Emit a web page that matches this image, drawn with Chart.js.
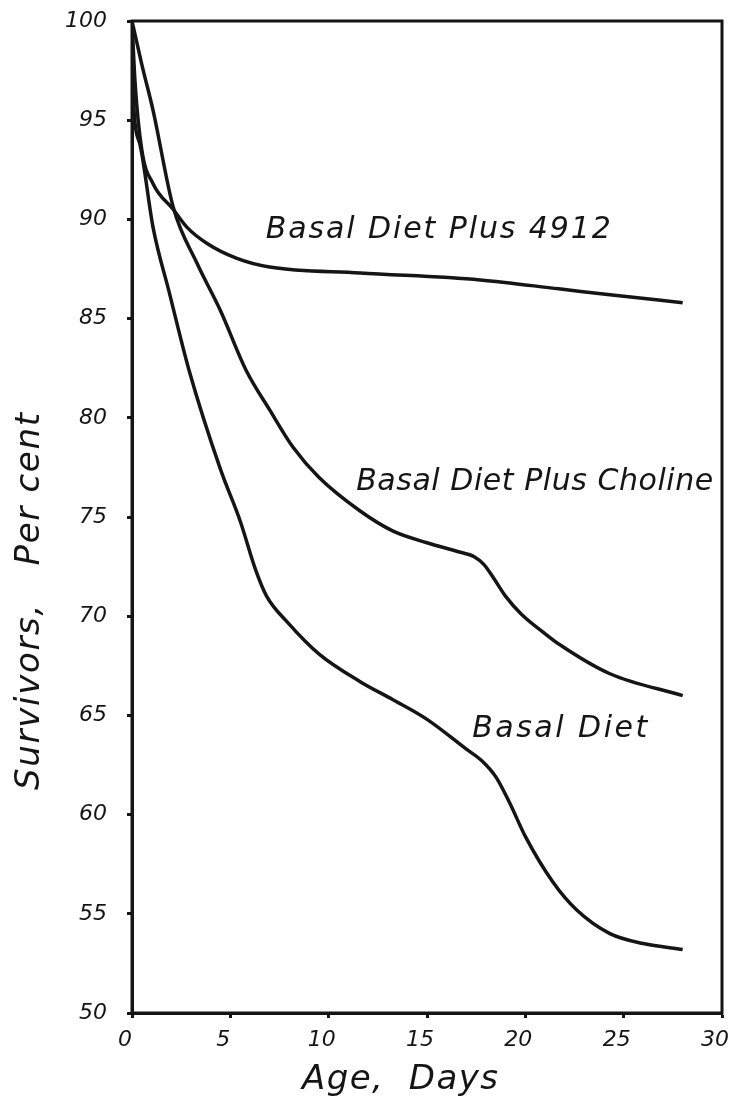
<!DOCTYPE html>
<html>
<head>
<meta charset="utf-8">
<script src="https://cdn.jsdelivr.net/npm/chart.js@4/dist/chart.umd.min.js"></script>
<style>
  html, body { margin: 0; padding: 0; background: #fff; }
  #wrap { position: relative; width: 733px; height: 1108px; }
</style>
</head>
<body>
<div id="wrap"><canvas id="c" width="733" height="1108"></canvas></div>
<script>
// ---- data ----
const xTicks = [0, 5, 10, 15, 20, 25, 30];
const yTicks = [50, 55, 60, 65, 70, 75, 80, 85, 90, 95, 100];

const days4912 = [0, 0.15, 0.5, 1.07, 2.1, 2.8, 3.8, 5.3, 7.0, 11.6, 17.7, 21.7, 24.3, 28.0];
const vals4912 = [100, 97.0, 93.5, 91.8, 90.5, 89.6, 88.8, 88.05, 87.6, 87.3, 86.95, 86.5, 86.2, 85.8];

const daysCholine = [0, 0.5, 1.07, 2.1, 3.3, 4.5, 5.8, 7.0, 8.2, 9.5, 11.6, 13.25, 15.0, 16.6, 17.4, 17.9, 18.4, 19.0, 19.8, 20.9, 21.7, 24.3, 28.0];
const valsCholine = [100, 97.8, 95.5, 90.6, 87.8, 85.4, 82.4, 80.4, 78.5, 77.0, 75.3, 74.3, 73.7, 73.25, 73.0, 72.6, 71.9, 71.0, 70.1, 69.2, 68.6, 67.1, 66.0];

const daysBasal = [0, 0.05, 0.4, 1.07, 1.9, 2.9, 4.5, 5.5, 6.3, 6.85, 7.9, 9.5, 11.6, 13.25, 15.0, 17.0, 17.8, 18.5, 19.2, 20.0, 21.4, 22.6, 24.3, 26.0, 28.0];
const valsBasal = [100, 96.5, 93.8, 89.6, 86.3, 82.4, 77.4, 74.8, 72.3, 71.0, 69.7, 68.1, 66.7, 65.8, 64.8, 63.3, 62.7, 61.9, 60.6, 58.9, 56.6, 55.2, 54.0, 53.5, 53.2];

const seriesNames = ["Basal Diet Plus 4912", "Basal Diet Plus Choline", "Basal Diet"];
// label anchor positions in data units [day, percent] (left end, vertical centre)
const labelAnchors = [[6.8, 89.45], [11.4, 76.75], [17.3, 64.3]];
const labelWidths = [345, 357, 175];

const xTitle = "Age,  Days";
const yTitle = "Survivors,   Per cent";

function pts(xs, ys) { return xs.map((x, i) => ({ x: x, y: ys[i] })); }

const INK = '#151515';
const LABEL_FONT = 'italic 200 30px "DejaVu Sans"';
const TICK_FONT = { family: 'DejaVu Sans', style: 'italic', size: 22, weight: 200 };

function fitText(ctx, text, x, y, targetW) {
  const w = ctx.measureText(text).width;
  if (w >= targetW) {
    ctx.save();
    ctx.translate(x, y);
    ctx.scale(targetW / w, 1);
    ctx.fillText(text, 0, 0);
    ctx.restore();
  } else {
    const sp = (targetW - w) / (text.length - 1);
    ctx.letterSpacing = sp.toFixed(2) + 'px';
    ctx.fillText(text, x, y);
    ctx.letterSpacing = '0px';
  }
}

const decorPlugin = {
  id: 'decor',
  afterDraw(chart) {
    const ctx = chart.ctx;
    const a = chart.chartArea;
    const xs = chart.scales.x, ys = chart.scales.y;
    ctx.save();
    // frame
    ctx.strokeStyle = INK;
    ctx.lineWidth = 3;
    ctx.strokeRect(a.left, a.top, a.right - a.left, a.bottom - a.top);
    // curve labels
    ctx.fillStyle = INK;
    ctx.font = LABEL_FONT;
    ctx.textBaseline = 'middle';
    ctx.textAlign = 'left';
    seriesNames.forEach((name, i) => {
      const px = xs.getPixelForValue(labelAnchors[i][0]);
      const py = ys.getPixelForValue(labelAnchors[i][1]);
      fitText(ctx, name, px, py, labelWidths[i]);
    });
    // axis titles
    ctx.font = 'italic 200 34px "DejaVu Sans"';
    ctx.textAlign = 'left';
    fitText(ctx, xTitle, 302, 1080, 196);
    ctx.save();
    ctx.translate(30, 790);
    ctx.rotate(-Math.PI / 2);
    fitText(ctx, yTitle, 0, 0, 377);
    ctx.restore();
    ctx.restore();
  }
};

const lineStyle = {
  borderColor: INK,
  borderWidth: 3.5,
  pointRadius: 0,
  fill: false,
  cubicInterpolationMode: 'monotone'
};

new Chart(document.getElementById('c'), {
  type: 'line',
  data: {
    datasets: [
      Object.assign({ label: seriesNames[0], data: pts(days4912, vals4912) }, lineStyle),
      Object.assign({ label: seriesNames[1], data: pts(daysCholine, valsCholine) }, lineStyle),
      Object.assign({ label: seriesNames[2], data: pts(daysBasal, valsBasal) }, lineStyle)
    ]
  },
  options: {
    responsive: false,
    animation: false,
    events: [],
    layout: { padding: { left: 0, right: 11, top: 21, bottom: 0 } },
    plugins: { legend: { display: false }, tooltip: { enabled: false }, title: { display: false } },
    scales: {
      x: {
        type: 'linear',
        min: 0, max: 30,
        afterBuildTicks(s) { s.ticks = xTicks.map(v => ({ value: v })); },
        afterFit(s) { s.height = 95; s.paddingLeft = 0; s.paddingRight = 0; },
        grid: { drawOnChartArea: false, drawTicks: true, tickLength: 5, tickWidth: 3, color: INK },
        border: { display: true, width: 3, color: INK },
        ticks: { color: INK, font: TICK_FONT, padding: 9, labelOffset: -7, maxRotation: 0 }
      },
      y: {
        type: 'linear',
        min: 50, max: 100,
        afterBuildTicks(s) { s.ticks = yTicks.map(v => ({ value: v })); },
        afterFit(s) { s.width = 132; s.paddingTop = 0; s.paddingBottom = 0; },
        grid: { drawOnChartArea: false, drawTicks: true, tickLength: 5, tickWidth: 3, color: INK },
        border: { display: true, width: 3, color: INK },
        ticks: { color: INK, font: TICK_FONT, padding: 20 }
      }
    }
  },
  plugins: [decorPlugin]
});
</script>
</body>
</html>
